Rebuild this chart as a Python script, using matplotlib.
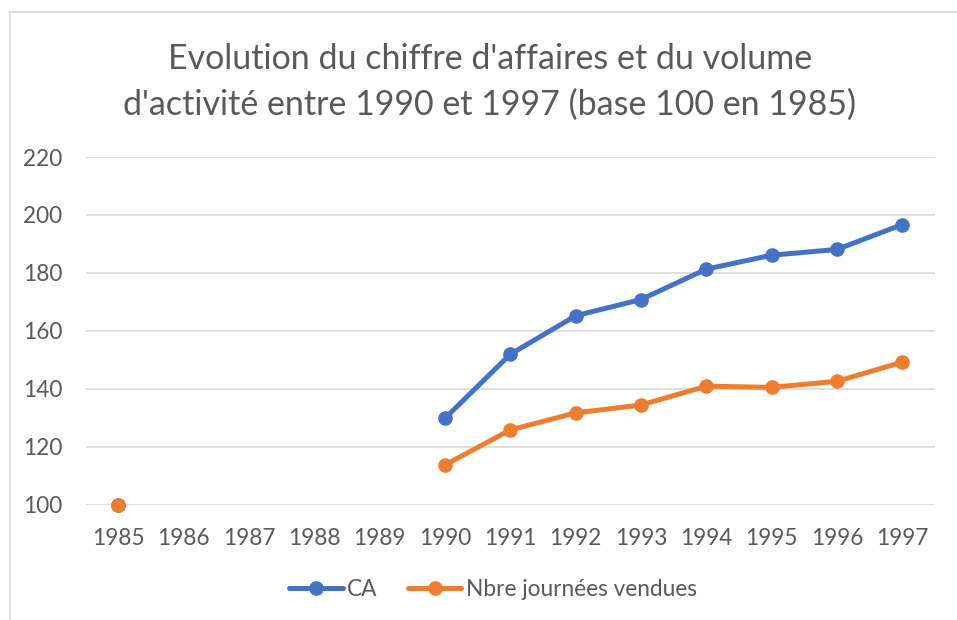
import numpy as np
import matplotlib
matplotlib.use("Agg")
import matplotlib.pyplot as plt
from matplotlib.lines import Line2D

plt.rcParams['font.family'] = ['Lato', 'DejaVu Sans']

years = ['1985', '1986', '1987', '1988', '1989', '1990', '1991', '1992',
         '1993', '1994', '1995', '1996', '1997']
ca = [100, np.nan, np.nan, np.nan, np.nan, 129.8, 151.9, 165.2, 170.8,
      181.3, 186.1, 188.1, 196.7]
nbre = [100, np.nan, np.nan, np.nan, np.nan, 113.7, 125.8, 131.7, 134.4,
        140.9, 140.5, 142.6, 149.2]
yticks = [100, 120, 140, 160, 180, 200, 220]
title = "Evolution du chiffre d'affaires et du volume\nd'activité entre 1990 et 1997 (base 100 en 1985)"
series_names = ['CA', 'Nbre journées vendues']

BLUE = '#4472C4'
ORANGE = '#ED7D31'
GRID = '#D9D9D9'
TXT = '#595959'

W, H = 957, 620
fig = plt.figure(figsize=(W / 100, H / 100), dpi=100)
fig.patch.set_facecolor('white')

left, right = 85.5, 935.0
top, bottom = 157.0, 504.7
ax = fig.add_axes([left / W, 1 - bottom / H, (right - left) / W, (bottom - top) / H])

x = np.arange(len(years))
ax.plot(x, ca, color=BLUE, lw=3.6, marker='o', ms=9.5, solid_capstyle='round',
        label=series_names[0], zorder=3, clip_on=False)
ax.plot(x, nbre, color=ORANGE, lw=3.6, marker='o', ms=9.5, solid_capstyle='round',
        label=series_names[1], zorder=4, clip_on=False)

ax.set_xlim(-0.5, len(years) - 0.5)
ax.set_ylim(100, 220)
ax.set_yticks(yticks)
ax.set_xticks(x)
ax.set_xticklabels(years)
ax.yaxis.grid(True, color=GRID, lw=1.2)
ax.set_axisbelow(True)
for s in ax.spines.values():
    s.set_visible(False)
ax.tick_params(length=0, labelsize=16.3, labelcolor=TXT)
ax.tick_params(axis='y', pad=16.5)
ax.tick_params(axis='x', pad=17)
ax.set_facecolor('none')

fig.text(490 / W, 1 - 82 / H, title, ha='center', va='center', fontsize=24.5,
         color=TXT, fontweight='normal', linespacing=1.5)

leg = fig.legend(loc='center', bbox_to_anchor=(493 / W, 1 - 589 / H), ncol=2,
                 frameon=False, fontsize=16.3, handlelength=2.36, handletextpad=0.18,
                 columnspacing=1.35, labelcolor=TXT)

# chart border (partially cropped in reference)
fig.add_artist(Line2D([9.5 / W, 1.0], [1 - 12 / H, 1 - 12 / H], color='#D9D9D9', lw=1.2,
                      transform=fig.transFigure))
fig.add_artist(Line2D([9.5 / W, 9.5 / W], [0, 1 - 12 / H], color='#D9D9D9', lw=1.2,
                      transform=fig.transFigure))

fig.savefig('out.png', dpi=100, facecolor='white')
